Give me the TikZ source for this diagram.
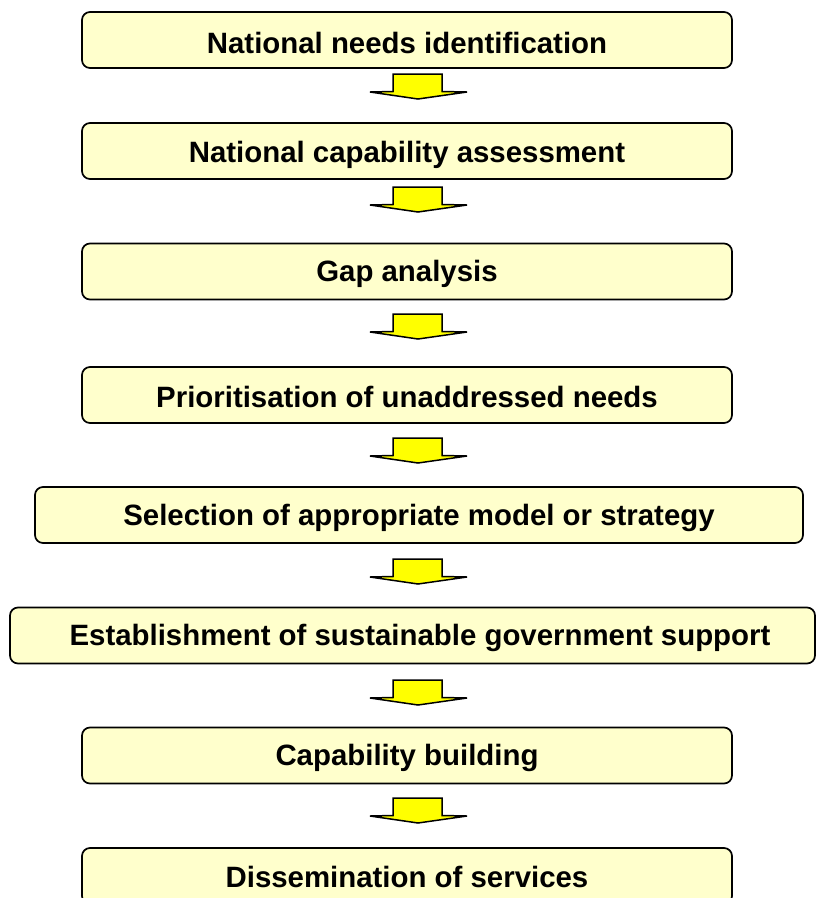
\documentclass[tikz,border=0pt]{standalone}
\usepackage{fontspec}
\setmainfont{Liberation Sans}
\begin{document}
\begin{tikzpicture}[x=1pt,y=-1pt,
  box/.style={draw=black, line width=1.7pt, fill=boxyellow, rounded corners=8pt,
    inner sep=0pt, minimum height=56pt},
  label/.style={inner sep=0pt, font=\fontsize{29.4}{34}\selectfont\bfseries},
  blockarrow/.pic={\draw[line width=1.5pt, fill=arrowyellow, line join=miter]
    (-25,0) -- (24,0) -- (24,17.5) -- (49,18) -- (0,25) -- (-48,18) -- (-25,17.5) -- cycle;}
]
\definecolor{boxyellow}{HTML}{FFFFCC}
\definecolor{arrowyellow}{HTML}{FFFF00}
\useasboundingbox (0,0) rectangle (816,898);
\clip (0,0) rectangle (816,898);
% boxes
\node[box, minimum width=650pt] (b1) at (407,40) {};
\node[label] (t1) at (407,43) {National needs identification};
\node[box, minimum width=650pt] (b2) at (407,151) {};
\node[label] (t2) at (407,155) {National capability assessment};
\node[box, minimum width=650pt] (b3) at (407,271.5) {};
\node[label] (t3) at (407,274) {Gap analysis};
\node[box, minimum width=650pt] (b4) at (407,395) {};
\node[label] (t4) at (407,397) {Prioritisation of unaddressed needs};
\node[box, minimum width=768pt] (b5) at (419,515) {};
\node[label] (t5) at (419,518) {Selection of appropriate model or strategy};
\node[box, minimum width=805pt] (b6) at (412.5,635.5) {};
\node[label] (t6) at (420,638) {Establishment of sustainable government support};
\node[box, minimum width=650pt] (b7) at (407,755.5) {};
\node[label] (t7) at (407,758) {Capability building};
\node[box, minimum width=650pt] (b8) at (407,876) {};
\node[label] (t8) at (407,877) {Dissemination of services};
% block arrows
\pic at (418,74) {blockarrow};
\pic at (418,187) {blockarrow};
\pic at (418,314) {blockarrow};
\pic at (418,438) {blockarrow};
\pic at (418,559) {blockarrow};
\pic at (418,680) {blockarrow};
\pic at (418,798) {blockarrow};
\end{tikzpicture}
\end{document}
